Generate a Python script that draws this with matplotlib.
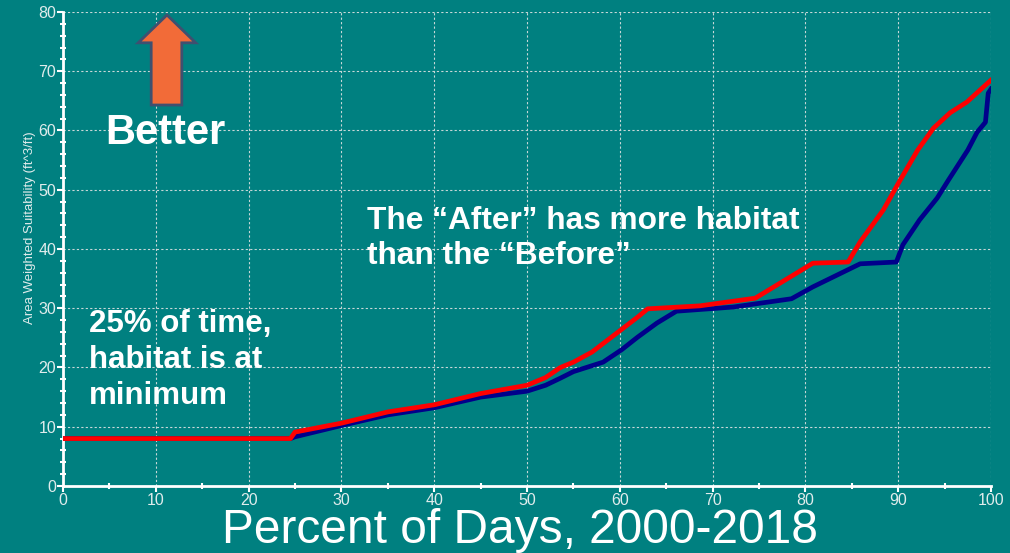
import matplotlib.pyplot as plt
from matplotlib.patches import Polygon
from matplotlib.ticker import MultipleLocator

plt.rcParams['font.family'] = ['Liberation Sans', 'DejaVu Sans']

# Percent of days vs. area weighted suitability
before_x = [0, 24.5, 25, 30, 35, 40, 45, 50, 52, 53.6, 55, 58.2, 60.2, 61.9, 64, 66.1,
            72.2, 78.5, 80.8, 85.9, 89.8, 90.5, 92.3, 94.2, 95.4, 97.5, 98.5, 99.4, 99.7, 100]
before_y = [8, 8, 8.3, 10.2, 12.0, 13.2, 15.0, 16.0, 17.0, 18.2, 19.3, 20.9, 23.0, 25.1, 27.5, 29.5,
            30.2, 31.6, 33.6, 37.5, 37.8, 40.7, 44.9, 48.6, 51.6, 56.7, 59.7, 61.4, 66.3, 67]
after_x = [0, 24.5, 25, 30, 35, 40, 45, 50, 52, 53.6, 55, 57, 60, 62, 63, 68.6, 74.6, 80.8,
           84.6, 85.9, 88.4, 90.2, 92.1, 93.8, 95.6, 97.4, 98.8, 100]
after_y = [8, 8, 9.1, 10.6, 12.5, 13.7, 15.6, 17.0, 18.3, 20.0, 20.9, 22.6, 26.2, 28.6, 29.9, 30.4,
           31.7, 37.6, 37.8, 41.2, 46.6, 51.6, 56.7, 60.4, 63.0, 64.8, 66.8, 68.5]

bg = '#008080'
fig = plt.figure(figsize=(10.1, 5.53), dpi=100, facecolor=bg)
ax = fig.add_axes([0.0624, 0.1212, 0.9188, 0.8571], facecolor=bg)

ax.plot(before_x, before_y, color='#00008B', lw=3.4, solid_joinstyle='round', zorder=3)
ax.plot(after_x, after_y, color='#FF0000', lw=3.4, solid_joinstyle='round', zorder=4)

ax.set_xlim(0, 100)
ax.set_ylim(0, 80)
ax.xaxis.set_major_locator(MultipleLocator(10))
ax.xaxis.set_minor_locator(MultipleLocator(5))
ax.yaxis.set_major_locator(MultipleLocator(10))
ax.yaxis.set_minor_locator(MultipleLocator(2))
ax.grid(True, which='major', color='#C8D8D8', ls=(0, (2, 2)), lw=0.8)

for s in ['top', 'right']:
    ax.spines[s].set_visible(False)
for s in ['left', 'bottom']:
    ax.spines[s].set_color('white')
    ax.spines[s].set_linewidth(2)

ax.tick_params(which='major', direction='out', length=4, width=1.5, color='white',
               labelcolor='#E0ECEC', labelsize=11.5, pad=1)
ax.tick_params(which='minor', direction='inout', length=4, width=1.5, color='white')

ax.set_xlabel('Percent of Days, 2000-2018', fontsize=34.5, color='white', va='top')
ax.xaxis.set_label_coords(0.4925, -0.047)
ax.set_ylabel('Area Weighted Suitability (ft^3/ft)', fontsize=9.5, color='#E0ECEC')
ax.yaxis.set_label_coords(-0.029, 0.544)

# "Better" arrow
arrow = Polygon([(9.5, 64.3), (12.8, 64.3), (12.8, 74.8), (14.3, 74.8), (11.2, 79.5),
                 (8.1, 74.8), (9.5, 74.8)], closed=True, facecolor='#F26B38',
                edgecolor='#3F5070', lw=2, clip_on=False, zorder=5)
ax.add_patch(arrow)
ax.text(11.0, 59.5, 'Better', fontsize=30, fontweight='bold', color='white',
        ha='center', va='center')

ax.text(2.8, 29.8, '25% of time,\nhabitat is at\nminimum', fontsize=22.5, fontweight='bold',
        color='white', ha='left', va='top', linespacing=1.25)
ax.text(32.8, 47.3, 'The \u201cAfter\u201d has more habitat\nthan the \u201cBefore\u201d', fontsize=22.8,
        fontweight='bold', color='white', ha='left', va='top', linespacing=1.25)

fig.savefig('out.png', dpi=100, facecolor=bg)
